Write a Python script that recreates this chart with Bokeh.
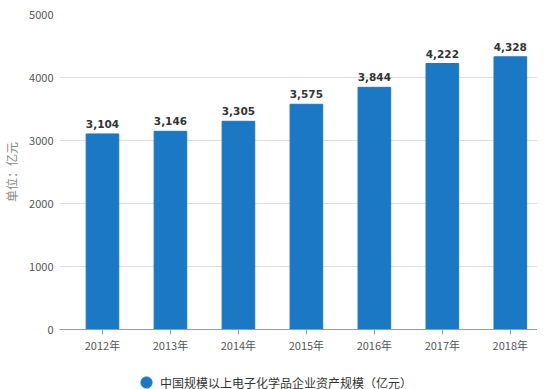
from bokeh.plotting import figure
from bokeh.layouts import column
from bokeh.core.properties import value
from bokeh.models import (ColumnDataSource, Range1d, FixedTicker, LabelSet,
                          Legend, LegendItem)
from bokeh.embed import file_html
from bokeh.resources import INLINE

years = ["2012年", "2013年", "2014年", "2015年", "2016年", "2017年", "2018年"]
values = [3104, 3146, 3305, 3575, 3844, 4222, 4328]
series_name = "中国规模以上电子化学品企业资产规模（亿元）"
y_title = "单位：亿元"
y_ticks = [0, 1000, 2000, 3000, 4000, 5000]

BLUE = "#1a78c4"
FONT = "Noto Sans CJK SC"

xs = list(range(len(years)))
src = ColumnDataSource(dict(
    x=xs, top=values,
    lbl=["{:,}".format(v) for v in values],
))

p = figure(width=537, height=360, output_backend="svg", toolbar_location=None,
           x_range=Range1d(-0.632, 6.40), y_range=Range1d(0, 5000),
           min_border_left=53, min_border_right=0, min_border_top=14,
           min_border_bottom=31)
p.outline_line_color = None
p.background_fill_color = "white"
p.border_fill_color = "white"

p.vbar(x="x", top="top", width=0.48, source=src, color=BLUE)

labels = LabelSet(x="x", y="top", text="lbl", source=src, y_offset=6,
                  text_align="center", text_baseline="bottom",
                  text_font=value("DejaVu Sans"), text_font_style="bold",
                  text_font_size="10.5px", text_color="#333333")
p.add_layout(labels)

# x axis
p.xaxis.ticker = FixedTicker(ticks=xs)
p.xaxis.major_label_overrides = {i: y for i, y in enumerate(years)}
p.xaxis.axis_line_color = "#9a9a9a"
p.xaxis.major_tick_line_color = "#9a9a9a"
p.xaxis.major_tick_in = 0
p.xaxis.major_tick_out = 5
p.xaxis.minor_tick_line_color = None
p.xaxis.major_label_standoff = 2
p.xaxis.major_label_text_font = FONT
p.xaxis.major_label_text_font_size = "11px"
p.xaxis.major_label_text_color = "#555555"
p.xgrid.grid_line_color = None

# y axis
p.yaxis.ticker = FixedTicker(ticks=y_ticks)
p.yaxis.axis_line_color = None
p.yaxis.major_tick_line_color = None
p.yaxis.minor_tick_line_color = None
p.yaxis.major_tick_in = 0
p.yaxis.major_tick_out = 0
p.yaxis.major_label_standoff = 6
p.yaxis.major_label_text_font = FONT
p.yaxis.major_label_text_font_size = "11px"
p.yaxis.major_label_text_color = "#555555"
p.yaxis.axis_label = y_title
p.yaxis.axis_label_standoff = 6
p.yaxis.axis_label_text_font = FONT
p.yaxis.axis_label_text_font_size = "12px"
p.yaxis.axis_label_text_font_style = "normal"
p.yaxis.axis_label_text_color = "#888888"
p.ygrid.grid_line_color = "#dddddd"

# legend strip
lf = figure(width=537, height=29, output_backend="svg", toolbar_location=None,
            x_range=Range1d(0, 1), y_range=Range1d(0, 1),
            min_border_left=0, min_border_right=0, min_border_top=0,
            min_border_bottom=0)
lf.axis.visible = False
lf.grid.visible = False
lf.outline_line_color = None
dummy = lf.scatter(x=[-5], y=[-5], marker="circle", size=13, color=BLUE)
legend = Legend(items=[LegendItem(label=series_name, renderers=[dummy])],
                location=(73, -7), orientation="horizontal",
                padding=0, margin=0, border_line_color=None,
                background_fill_alpha=0, glyph_width=28, glyph_height=28,
                label_standoff=0, label_text_font=FONT,
                label_text_font_size="12px", label_text_color="#333333")
lf.add_layout(legend)

layout = column(p, lf, spacing=0)
open("out.html", "w").write(file_html(layout, INLINE))
